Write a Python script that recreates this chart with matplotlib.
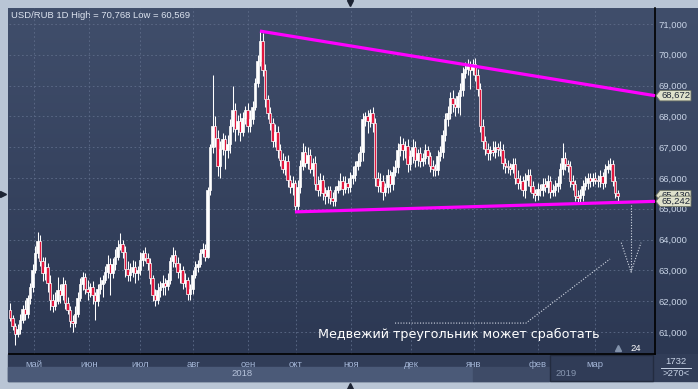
import numpy as np
import matplotlib

matplotlib.use("Agg")
import matplotlib.pyplot as plt  # noqa: E402
from matplotlib.colors import LinearSegmentedColormap  # noqa: E402
from matplotlib.patches import Polygon, Rectangle  # noqa: E402

# daily closes USD/RUB (open = previous close)
first_open = 61.70
closes = [
    61.45, 61.20, 60.95, 61.10, 61.40, 61.75, 61.60, 62.10,
    62.45, 63.00, 63.55, 63.95, 63.30, 62.90, 63.10, 62.60,
    62.05, 61.85, 62.00, 62.35, 62.20, 62.55, 61.95, 61.70,
    61.35, 61.30, 61.60, 62.10, 62.55, 62.80, 62.40, 62.30,
    62.45, 62.20, 62.00, 62.40, 62.55, 62.70, 62.95, 63.20,
    62.90, 63.20, 63.45, 63.75, 63.85, 63.60, 63.05, 62.85,
    62.95, 63.10, 62.90, 63.00, 63.35, 63.55, 63.40, 63.25,
    62.75, 62.20, 62.05, 62.35, 62.45, 62.60, 62.50, 62.70,
    63.30, 63.50, 63.25, 62.95, 63.00, 62.60, 62.70, 62.25,
    62.40, 62.85, 63.10, 63.20, 63.55, 63.70, 63.45, 65.60,
    67.00, 67.70, 67.30, 66.40, 66.95, 67.25, 66.90, 67.10,
    67.70, 68.20, 67.60, 67.85, 67.50, 67.95, 68.20, 67.70,
    67.90, 68.30, 69.10, 69.80, 70.45, 69.50, 68.55, 68.10,
    67.80, 67.20, 67.50, 66.90, 66.60, 66.30, 66.55, 65.95,
    65.70, 65.85, 65.10, 65.70, 66.40, 66.85, 66.50, 66.75,
    66.30, 66.50, 65.80, 65.60, 65.95, 65.50, 65.40, 65.60,
    65.35, 65.25, 65.60, 65.75, 65.90, 65.65, 65.85, 65.70,
    66.00, 66.10, 66.40, 66.55, 66.85, 67.90, 68.00, 67.85,
    68.10, 67.80, 66.00, 65.75, 65.90, 65.55, 65.70, 66.10,
    65.80, 66.20, 66.35, 66.90, 67.10, 66.90, 67.05, 66.45,
    66.70, 67.00, 66.60, 66.80, 66.55, 66.65, 66.90, 66.70,
    66.40, 66.30, 66.25, 66.70, 66.85, 67.40, 67.90, 68.10,
    68.60, 68.40, 68.30, 68.65, 68.85, 69.40, 69.55, 69.65,
    69.50, 69.70, 69.35, 68.90, 67.70, 67.20, 66.95, 66.80,
    66.90, 66.85, 67.00, 66.95, 66.90, 66.50, 66.40, 66.35,
    66.30, 66.45, 66.00, 65.85, 65.90, 65.60, 65.95, 66.10,
    65.75, 65.50, 65.45, 65.65, 65.60, 65.80, 65.70, 65.90,
    65.55, 65.60, 65.75, 65.85, 66.30, 66.65, 66.45, 66.40,
    65.90, 65.80, 65.40, 65.35, 65.45, 65.75, 65.85, 66.00,
    65.90, 66.00, 65.95, 65.90, 66.05, 65.85, 66.30, 66.40,
    66.45, 65.90, 65.50, 65.40,
]
# wick lengths above / below the body, in hundredths of a rouble
upper_wick = [
    25, 10, 8, 15, 20, 12, 30, 10, 15, 20, 25, 30, 20, 15, 35, 15,
    25, 20, 30, 45, 20, 25, 15, 20, 15, 20, 25, 20, 20, 15, 10, 30,
    15, 20, 10, 15, 25, 15, 20, 30, 20, 20, 25, 25, 35, 15, 20, 25,
    30, 25, 20, 15, 25, 10, 20, 15, 15, 10, 20, 25, 20, 25, 15, 20,
    15, 25, 15, 20, 25, 15, 20, 10, 15, 15, 20, 15, 15, 20, 15, 10,
    10, 165, 30, 25, 25, 20, 15, 30, 20, 80, 25, 20, 25, 20, 15, 25,
    30, 20, 15, 20, 32, 25, 20, 15, 20, 15, 25, 20, 20, 20, 15, 20,
    15, 20, 10, 25, 20, 30, 20, 25, 20, 15, 20, 25, 20, 15, 20, 15,
    15, 20, 15, 20, 25, 15, 20, 15, 20, 30, 15, 25, 20, 20, 15, 20,
    15, 20, 15, 20, 25, 20, 15, 20, 15, 20, 25, 25, 25, 20, 15, 20,
    20, 25, 20, 15, 20, 15, 20, 15, 15, 20, 15, 20, 20, 15, 20, 25,
    20, 25, 20, 15, 25, 20, 20, 20, 15, 15, 20, 20, 20, 20, 15, 20,
    15, 30, 20, 15, 25, 20, 15, 20, 15, 20, 20, 25, 20, 15, 20, 20,
    20, 15, 15, 20, 15, 20, 20, 20, 15, 20, 20, 20, 20, 50, 20, 15,
    15, 20, 15, 20, 20, 20, 20, 15, 15, 15, 20, 15, 20, 15, 15, 20,
    20, 15, 15, 10,
]
lower_wick = [
    10, 15, 38, 12, 15, 10, 20, 15, 20, 15, 10, 15, 15, 25, 20, 30,
    35, 20, 15, 10, 25, 15, 20, 10, 20, 30, 15, 10, 10, 20, 15, 25,
    15, 30, 60, 15, 15, 40, 10, 20, 70, 15, 20, 10, 10, 20, 25, 20,
    20, 15, 30, 20, 15, 20, 10, 25, 20, 20, 20, 15, 20, 25, 30, 15,
    15, 20, 15, 20, 35, 20, 15, 20, 20, 15, 10, 15, 10, 10, 15, 5,
    15, 20, 30, 35, 40, 20, 60, 25, 30, 20, 40, 20, 30, 15, 20, 20,
    20, 15, 10, 15, 15, 20, 25, 20, 25, 20, 20, 25, 20, 15, 20, 25,
    20, 25, 20, 15, 20, 15, 15, 20, 15, 25, 20, 20, 20, 20, 25, 20,
    20, 15, 15, 10, 15, 20, 15, 20, 15, 20, 20, 15, 15, 30, 20, 40,
    20, 30, 25, 20, 20, 25, 15, 20, 25, 20, 15, 20, 20, 30, 25, 25,
    20, 20, 25, 20, 20, 15, 20, 25, 20, 25, 20, 15, 15, 20, 20, 20,
    20, 25, 30, 20, 60, 20, 15, 20, 60, 15, 20, 25, 20, 25, 20, 20,
    20, 15, 20, 25, 20, 20, 25, 20, 20, 15, 20, 20, 20, 20, 25, 20,
    20, 15, 20, 15, 20, 20, 15, 20, 20, 15, 20, 20, 20, 20, 20, 20,
    20, 20, 15, 20, 20, 20, 15, 20, 20, 15, 15, 20, 20, 20, 15, 15,
    15, 15, 15, 15,
]

# month grid / label positions (candle index) and labels
month_pos = [9.6, 31.6, 52.0, 73.2, 95.2, 114.4, 136.4, 160.4, 185.6, 211.2, 234.0]
month_lbl = ["май", "июн", "июл", "авг", "сен", "окт", "ноя", "дек", "янв", "фев", "мар"]
price_ticks = [61, 62, 63, 64, 65, 66, 67, 68, 69, 70, 71]

upper_end = 68.672   # resistance line value at the right edge
lower_end = 65.242   # support line value at the right edge
last_hidden = 65.430

W, H = 698, 389
FRAME = "#b9c5d5"
PINK = "#ff00ff"
RED = "#e3173e"
TXT = "#c8d3e6"

fig = plt.figure(figsize=(W / 100, H / 100), dpi=100, facecolor=FRAME)

# pixel canvas for the panel backgrounds
cv = fig.add_axes([0, 0, 1, 1], zorder=0)
cv.axis("off")
grad = np.linspace(0, 1, 256).reshape(-1, 1)
cmap = LinearSegmentedColormap.from_list("bg", ["#404e6b", "#2c3853"])
cv.imshow(grad, extent=(8, 698, 354, 8), aspect="auto", cmap=cmap, origin="upper")
cv.add_patch(Rectangle((8, 354), 690, 27, color="#313d58"))
cv.add_patch(Rectangle((8, 367), 465, 14, color="#4b5a78"))
cv.add_patch(Rectangle((473, 367), 76, 14, color="#3e4b67"))
cv.add_patch(Rectangle((550, 355), 103, 26, facecolor="#303c57", edgecolor="#232c40", lw=1))
cv.set_xlim(0, W)
cv.set_ylim(H, 0)

cv.text(11, 15, "USD/RUB 1D High = 70,768 Low = 60,569", color="#dde4f0",
        fontsize=6.8, family="Liberation Sans", va="center", ha="left")
cv.text(242, 374, "2018", color="#b5c2da", fontsize=6.8, family="Liberation Sans",
        ha="center", va="center")
cv.text(555, 374, "2019", color="#8796b0", fontsize=6.8, family="Liberation Sans",
        ha="left", va="center")
cv.text(676, 361, "1732", color=TXT, fontsize=6.8, family="Liberation Sans",
        ha="center", va="center")
cv.plot([661, 691], [367.5, 367.5], color=TXT, lw=0.7)
cv.text(676, 374, ">270<", color=TXT, fontsize=6.8, family="Liberation Sans",
        ha="center", va="center")
cv.plot([350], [3], marker="v", ms=5, color="#1c2333", ls="none")
cv.plot([350], [386], marker="^", ms=5, color="#1c2333", ls="none")
cv.plot([3], [194], marker=">", ms=5, color="#1c2333", ls="none")

# main price axes
ax = fig.add_axes([9 / W, 35 / H, 646 / W, 346 / H], zorder=1)
ax.patch.set_alpha(0)
ax.set_xlim(-0.4, 258.0)
ax.set_ylim(60.286, 71.519)
for s in ("top", "left"):
    ax.spines[s].set_visible(False)
for s in ("right", "bottom"):
    ax.spines[s].set_color("black")
    ax.spines[s].set_linewidth(1.2)
ax.yaxis.tick_right()
ax.set_yticks(price_ticks)
ax.set_yticklabels([f"{v:.3f}".replace(".", ",") for v in price_ticks])
ax.set_xticks(month_pos)
ax.set_xticklabels(month_lbl)
ax.tick_params(length=0, labelsize=6.8)
ax.tick_params(axis="y", pad=2.5, labelcolor=TXT)
ax.tick_params(axis="x", pad=4, labelcolor="#a3b5d6")
for lab in ax.get_xticklabels() + ax.get_yticklabels():
    lab.set_family("Liberation Sans")
ax.grid(True, color="#5e6c89", lw=0.6, ls=(0, (2, 3)))
ax.set_axisbelow(True)

c = np.array(closes)
o = np.r_[first_open, c[:-1]]
hi = np.maximum(o, c) + np.array(upper_wick) / 100
lo = np.minimum(o, c) - np.array(lower_wick) / 100
x = np.arange(len(c))
col = np.where(c >= o, "white", RED)
ax.vlines(x, lo, hi, color="white", lw=0.75, zorder=3)
ax.bar(x, np.maximum(np.abs(c - o), 0.04), bottom=np.minimum(o, c), width=0.85,
       color=col, edgecolor="white", linewidth=0.5, zorder=4)

# triangle lines
i_top = int(np.argmax(hi))
i_bot = i_top + int(np.argmin(lo[i_top:]))
xr = ax.get_xlim()[1]
ax.plot([i_top, xr], [hi[i_top], upper_end], color=PINK, lw=2.3, zorder=5,
        solid_capstyle="butt", clip_on=False)
ax.plot([i_bot, xr], [lo[i_bot], lower_end], color=PINK, lw=2.3, zorder=5,
        solid_capstyle="butt", clip_on=False)

# annotation: dotted pointer lines and arrow
dot = dict(color="#d5dbe6", lw=0.8, ls=(0, (1, 1.5)), zorder=5)
ax.plot([154, 206.4, 240], [61.29, 61.29, 63.37], **dot)
ax.plot([248.4, 248.4], [65.12, 62.95], **dot)
ax.plot([244.5, 248.4, 252.4], [63.90, 62.95, 63.90], **dot)
ax.text(123.2, 60.92, "Медвежий треугольник может сработать", color="white",
        fontsize=9.2, family="DejaVu Sans", ha="left", va="center", zorder=6)
ax.plot([243.2], [60.47], marker="^", ms=4, color="#8292ab", ls="none", zorder=6)
ax.text(248.0, 60.47, "24", color="white", fontsize=6.8, family="Liberation Sans",
        ha="left", va="center", zorder=6)

# price boxes on the right scale
ov = fig.add_axes([0, 0, 1, 1], zorder=2)
ov.axis("off")
ov.set_xlim(0, W)
ov.set_ylim(H, 0)


def price_y(p):
    return H - ax.transData.transform((0, p))[1]


for p in (last_hidden, lower_end, upper_end):
    y = price_y(p)
    ov.add_patch(Polygon([(656, y), (660, y - 5.2), (691, y - 5.2), (691, y + 5.2), (660, y + 5.2)],
                         closed=True, facecolor="#dfe1cb", edgecolor="#6d7262", lw=0.6))
    t = ov.text(661, y, f"{p:.3f}".replace(".", ","), color="#1d2535", fontsize=6.8,
                family="Liberation Sans", ha="left", va="center")
    if p == last_hidden:
        # only the top part of this box peeks out above the support-level box
        visible_h = price_y(lower_end) - 5.2 - (y - 5.2)
        clip = Rectangle((656, y - 5.2), 35, visible_h, transform=ov.transData)
        t.set_clip_on(True)
        t.set_clip_path(clip)

fig.savefig("out.png", dpi=100, facecolor=FRAME)
